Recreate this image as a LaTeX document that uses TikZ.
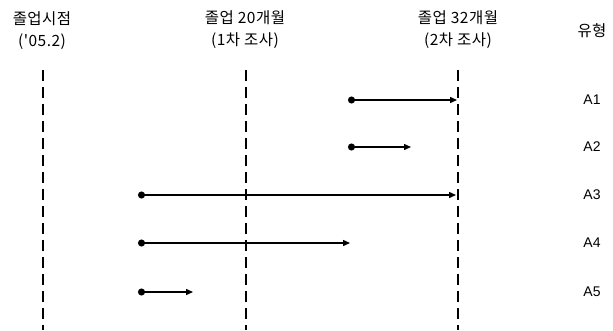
\documentclass[tikz,border=0pt]{standalone}
\usepackage{fontspec}
\setmainfont{Liberation Sans}
\newfontfamily\kr[LetterSpace=3]{Noto Sans CJK KR}
\usetikzlibrary{arrows.meta}
\begin{document}
\begin{tikzpicture}[x=1pt,y=-1pt,
  vline/.style={line width=2pt,dash pattern=on 11pt off 6pt},
  period/.style={line width=1.4pt,{Circle[length=7pt]}-{Triangle[length=7pt,width=6pt]}},
  head/.style={font=\kr\fontsize{15.5}{22}\selectfont,align=center},
  lab/.style={font=\fontsize{14}{16}\selectfont}]
\useasboundingbox (0,0) rectangle (613,330);
% headers
\node[head] (h0) at (42,31) {졸업시점\\('05.2)};
\node[head] (h1) at (245,30) {졸업 20개월\\(1차 조사)};
\node[head] (h2) at (458,30) {졸업 32개월\\(2차 조사)};
\node[head] (h3) at (592,31) {유형};
% timeline coordinates
\coordinate (t0a) at (43,70);  \coordinate (t0b) at (43,330);
\coordinate (t1a) at (246,70); \coordinate (t1b) at (246,330);
\coordinate (t2a) at (458,70); \coordinate (t2b) at (458,330);
\draw[vline] (t0a) -- (t0b);
\draw[vline] (t1a) -- (t1b);
\draw[vline] (t2a) -- (t2b);
% periods
\coordinate (a1s) at (348,100); \coordinate (a1e) at (457,100);
\coordinate (a2s) at (348,147); \coordinate (a2e) at (411,147);
\coordinate (a3s) at (138,195); \coordinate (a3e) at (456,195);
\coordinate (a4s) at (138,243); \coordinate (a4e) at (350,243);
\coordinate (a5s) at (138,292); \coordinate (a5e) at (193,292);
\draw[period] (a1s) -- (a1e);
\draw[period] (a2s) -- (a2e);
\draw[period] (a3s) -- (a3e);
\draw[period] (a4s) -- (a4e);
\draw[period] (a5s) -- (a5e);
% labels
\node[lab] (l1) at (592,100) {A1};
\node[lab] (l2) at (592,147) {A2};
\node[lab] (l3) at (592,195) {A3};
\node[lab] (l4) at (592,243) {A4};
\node[lab] (l5) at (592,292) {A5};
\end{tikzpicture}
\end{document}
